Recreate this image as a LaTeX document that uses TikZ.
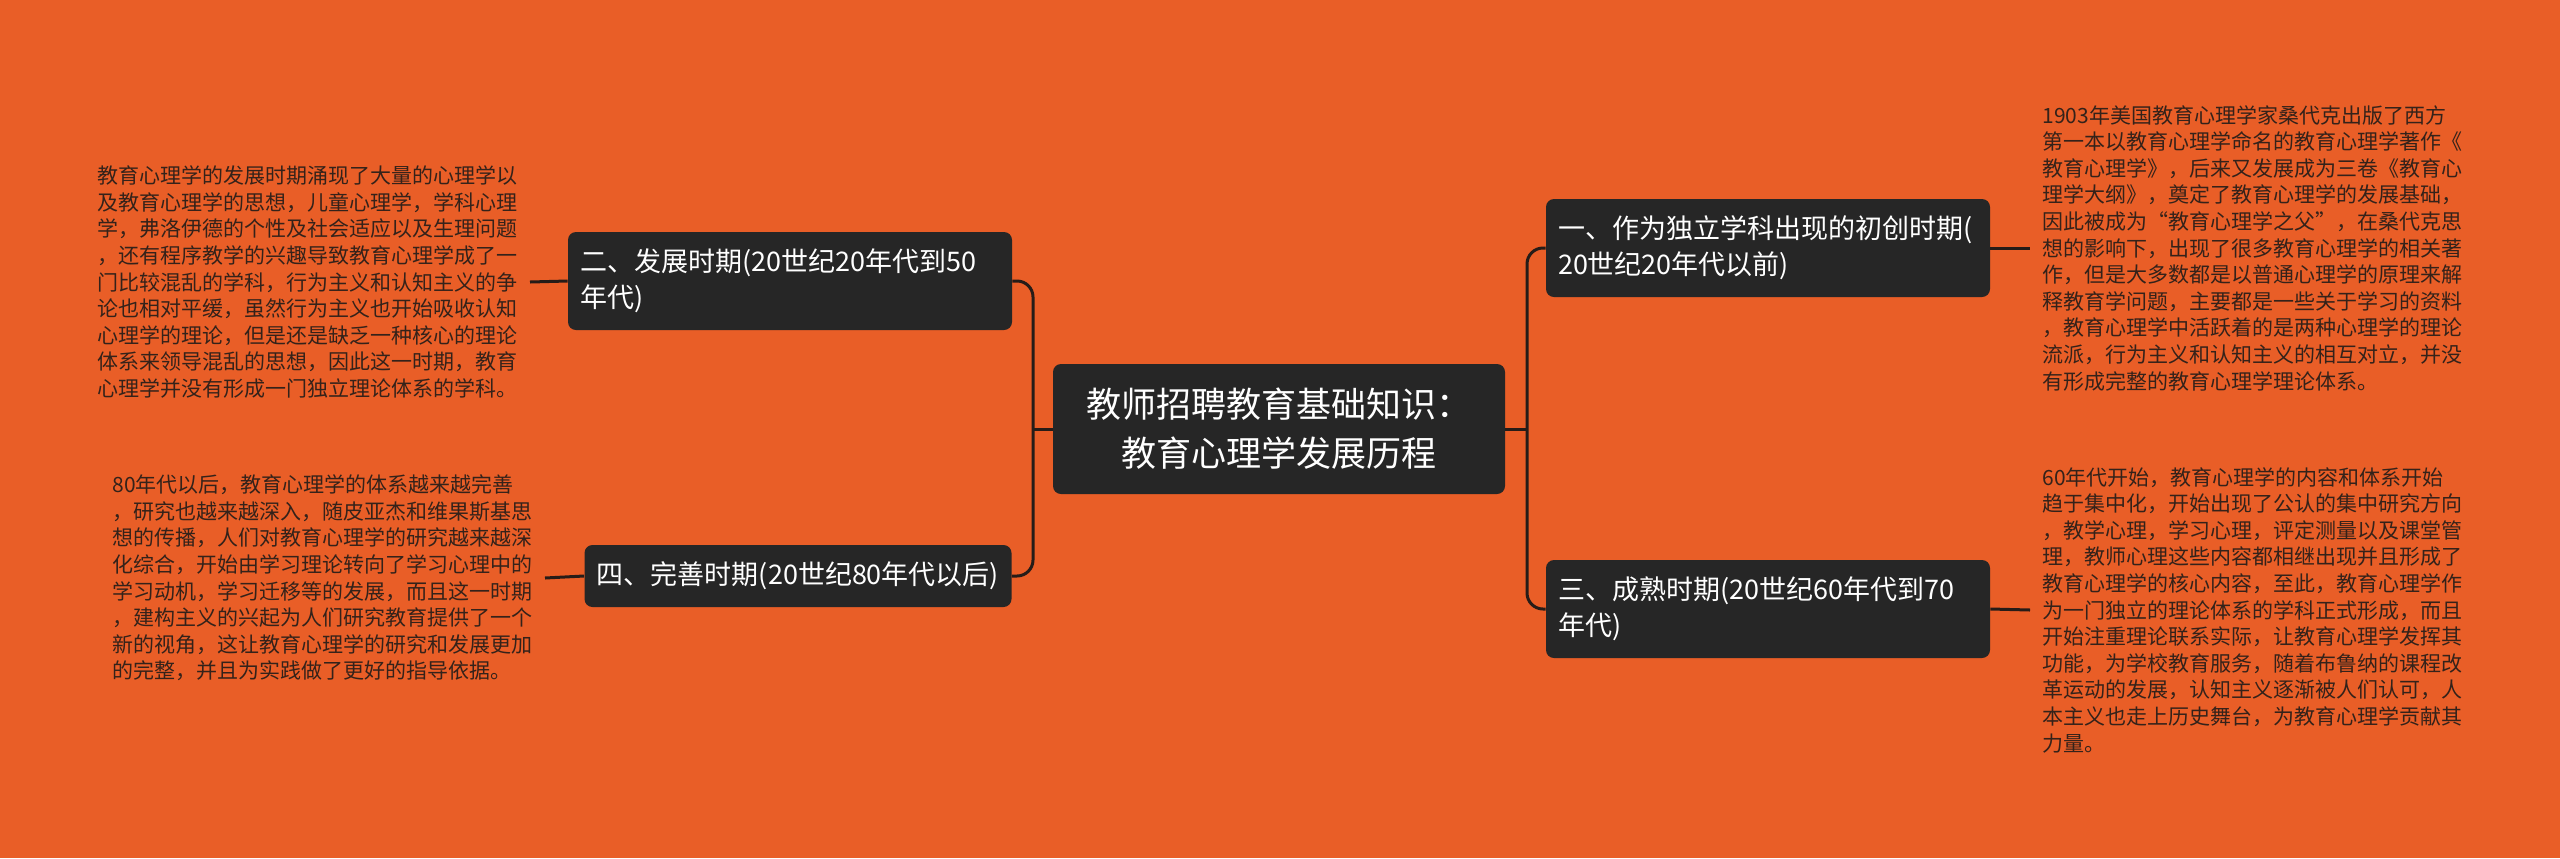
\documentclass[tikz,border=0pt]{standalone}
\usepackage{fontspec}
\newfontfamily\cjk{Noto Sans CJK SC}
\definecolor{bgorange}{RGB}{233,94,39}
\definecolor{boxgray}{RGB}{38,38,38}
\definecolor{linedark}{RGB}{38,28,24}
\definecolor{notetext}{RGB}{52,34,26}

\begin{document}
\begin{tikzpicture}[x=0.5pt, y=-0.5pt,
    rootbox/.style={rounded corners=4pt, fill=boxgray, text=white, align=center,
        minimum width=226pt, minimum height=65pt, font=\cjk\fontsize{17.5pt}{24.5pt}\selectfont},
    branch/.style={rounded corners=4pt, fill=boxgray, text=white, align=left,
        inner xsep=6pt, minimum height=49pt, font=\cjk\fontsize{13.5pt}{18pt}\selectfont},
    note/.style={text=notetext, align=left, inner xsep=6pt, inner ysep=0pt,
        font=\cjk\fontsize{10.5pt}{13.3pt}\selectfont},
    link/.style={draw=linedark, line width=1.5pt, rounded corners=8pt}]

        % Background
        \path[use as bounding box, fill=bgorange] (0,0) rectangle (2560,858);

        % Central topic
        \node[rootbox] (root) at (1279,429) {教师招聘教育基础知识：\\教育心理学发展历程};

        % Branches on the right
        \node[branch, text width=210pt] (n1) at (1768,248) {一、作为独立学科出现的初创时期(\\20世纪20年代以前)};
        \node[branch, text width=210pt] (n3) at (1768,609) {三、成熟时期(20世纪60年代到70\\年代)};

        % Branches on the left
        \node[branch, text width=210pt] (n2) at (790,281) {二、发展时期(20世纪20年代到50\\年代)};
        \node[branch, minimum width=213.5pt, minimum height=31pt] (n4) at (798,576) {四、完善时期(20世纪80年代以后)};

        % Junction points
        \coordinate (jl) at (1033,429);
        \coordinate (jr) at (1527,429);

        % Notes
        \node[note, anchor=west] (t1) at (2030,248) {1903年美国教育心理学家桑代克出版了西方\\
第一本以教育心理学命名的教育心理学著作《\\
教育心理学》，后来又发展成为三卷《教育心\\
理学大纲》，奠定了教育心理学的发展基础，\\
因此被成为“教育心理学之父”，在桑代克思\\
想的影响下，出现了很多教育心理学的相关著\\
作，但是大多数都是以普通心理学的原理来解\\
释教育学问题，主要都是一些关于学习的资料\\
，教育心理学中活跃着的是两种心理学的理论\\
流派，行为主义和认知主义的相互对立，并没\\
有形成完整的教育心理学理论体系。};

        \node[note, anchor=west] (t3) at (2030,610) {60年代开始，教育心理学的内容和体系开始\\
趋于集中化，开始出现了公认的集中研究方向\\
，教学心理，学习心理，评定测量以及课堂管\\
理，教师心理这些内容都相继出现并且形成了\\
教育心理学的核心内容，至此，教育心理学作\\
为一门独立的理论体系的学科正式形成，而且\\
开始注重理论联系实际，让教育心理学发挥其\\
功能，为学校教育服务，随着布鲁纳的课程改\\
革运动的发展，认知主义逐渐被人们认可，人\\
本主义也走上历史舞台，为教育心理学贡献其\\
力量。};

        \node[note, anchor=east] (t2) at (530,282) {教育心理学的发展时期涌现了大量的心理学以\\
及教育心理学的思想，儿童心理学，学科心理\\
学，弗洛伊德的个性及社会适应以及生理问题\\
，还有程序教学的兴趣导致教育心理学成了一\\
门比较混乱的学科，行为主义和认知主义的争\\
论也相对平缓，虽然行为主义也开始吸收认知\\
心理学的理论，但是还是缺乏一种核心的理论\\
体系来领导混乱的思想，因此这一时期，教育\\
心理学并没有形成一门独立理论体系的学科。};

        \node[note, anchor=east] (t4) at (545,578) {80年代以后，教育心理学的体系越来越完善\\
，研究也越来越深入，随皮亚杰和维果斯基思\\
想的传播，人们对教育心理学的研究越来越深\\
化综合，开始由学习理论转向了学习心理中的\\
学习动机，学习迁移等的发展，而且这一时期\\
，建构主义的兴起为人们研究教育提供了一个\\
新的视角，这让教育心理学的研究和发展更加\\
的完整，并且为实践做了更好的指导依据。};

        % Connectors
        \draw[link] (root.west) -- (jl);
        \draw[link] (n2.east) -| (jl) |- (n4.east);
        \draw[link] (root.east) -- (jr);
        \draw[link] (n1.west) -| (jr) |- (n3.west);
        \draw[link] (n1.east) -- (t1.west);
        \draw[link] (n3.east) -- (t3.west);
        \draw[link] (n2.west) -- (t2.east);
        \draw[link] (n4.west) -- (t4.east);
    \end{tikzpicture}
\end{document}
